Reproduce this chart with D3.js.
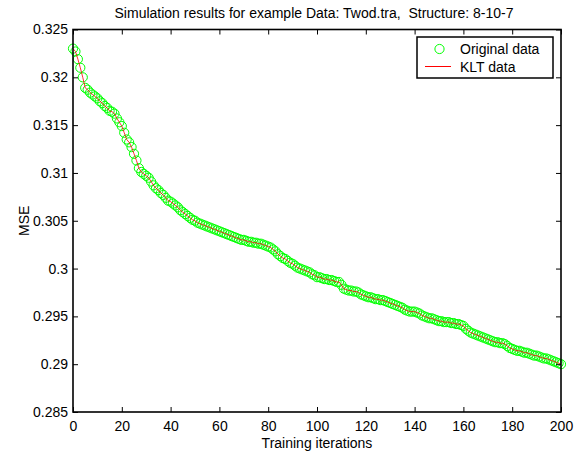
<!DOCTYPE html>
<html>
<head>
<meta charset="utf-8">
<script src="https://cdn.jsdelivr.net/npm/d3@7"></script>
<style>
	body { margin: 0; background: #fff; }
	svg text { font-family: "Liberation Sans", Arial, Helvetica, sans-serif; fill: #000; }
</style>
</head>
<body>
<div id="chart"></div>
<script>

var chartTitle = "Simulation results for example Data: Twod.tra,  Structure: 8-10-7"
var xLabel = "Training iterations"
var yLabel = "MSE"
var seriesNames = ["Original data", "KLT data"]

var xTicks = [0, 20, 40, 60, 80, 100, 120, 140, 160, 180, 200]
var yTicks = [0.285, 0.29, 0.295, 0.3, 0.305, 0.31, 0.315, 0.32, 0.325]

// MSE per training iteration, 0..200
var mseOriginal = [
	0.3230, 0.3227, 0.3219, 0.3210, 0.3200, 0.3189, 0.3187, 0.3184, 0.3182, 0.3180,
	0.3178, 0.3175, 0.3173, 0.3170, 0.3168, 0.3165, 0.3164, 0.3162, 0.3157, 0.3153,
	0.3149, 0.3142, 0.3135, 0.3132, 0.3127, 0.3120, 0.3113, 0.3105, 0.3101, 0.3099,
	0.3097, 0.3095, 0.3091, 0.3087, 0.3084, 0.3082, 0.3079, 0.3077, 0.3074, 0.3071,
	0.3070, 0.3068, 0.3066, 0.3064, 0.3061, 0.3059, 0.3057, 0.3055, 0.3053, 0.3051,
	0.3050, 0.3048, 0.3047, 0.3046, 0.3045, 0.3044, 0.3043, 0.3042, 0.3041, 0.3040,
	0.3039, 0.3038, 0.3037, 0.3036, 0.3035, 0.3034, 0.3033, 0.3032, 0.3031, 0.3030,
	0.3030, 0.3029, 0.3028, 0.3028, 0.3027, 0.3027, 0.3026, 0.3026, 0.3025, 0.3024,
	0.3023, 0.3022, 0.3020, 0.3018, 0.3015, 0.3013, 0.3011, 0.3010, 0.3008, 0.3006,
	0.3005, 0.3003, 0.3001, 0.3000, 0.2999, 0.2998, 0.2997, 0.2996, 0.2994, 0.2993,
	0.2991, 0.2991, 0.2990, 0.2989, 0.2989, 0.2988, 0.2988, 0.2987, 0.2986, 0.2986,
	0.2983, 0.2979, 0.2978, 0.2977, 0.2977, 0.2976, 0.2976, 0.2975, 0.2973, 0.2972,
	0.2971, 0.2970, 0.2970, 0.2969, 0.2968, 0.2968, 0.2967, 0.2967, 0.2966, 0.2965,
	0.2964, 0.2963, 0.2962, 0.2961, 0.2960, 0.2959, 0.2957, 0.2956, 0.2955, 0.2955,
	0.2955, 0.2954, 0.2953, 0.2951, 0.2950, 0.2949, 0.2948, 0.2948, 0.2947, 0.2946,
	0.2945, 0.2945, 0.2944, 0.2944, 0.2944, 0.2943, 0.2943, 0.2942, 0.2942, 0.2941,
	0.2940, 0.2937, 0.2935, 0.2933, 0.2932, 0.2931, 0.2930, 0.2929, 0.2928, 0.2927,
	0.2926, 0.2925, 0.2924, 0.2923, 0.2923, 0.2922, 0.2922, 0.2921, 0.2919, 0.2917,
	0.2916, 0.2915, 0.2914, 0.2914, 0.2913, 0.2912, 0.2912, 0.2911, 0.2910, 0.2909,
	0.2909, 0.2908, 0.2907, 0.2906, 0.2906, 0.2905, 0.2904, 0.2903, 0.2902, 0.2901,
	0.2900
]

// the KLT run sits on top of the original one
var mseKLT = mseOriginal.slice()

function init() {

	var width = 574
	var height = 458
	var margin = {top: 29.5, right: 13, bottom: 46, left: 73}

	var w = width - margin.left - margin.right
	var h = height - margin.top - margin.bottom

	var svg = d3.select("#chart").append("svg")
		.attr("width", width)
		.attr("height", height)

	var x = d3.scaleLinear().domain([0, 200]).range([0, w])
	var y = d3.scaleLinear().domain([0.285, 0.325]).range([h, 0])

	var plot = svg.append("g").attr("transform", "translate(" + margin.left + "," + margin.top + ")")

	var original = mseOriginal.map(function(d, i) { return {i: i, v: d} })
	var klt = mseKLT.map(function(d, i) { return {i: i, v: d} })

	plot.selectAll(".orig")
		.data(original)
		.enter().append("circle")
		.attr("class", "orig")
		.attr("cx", function(d) { return x(d.i) })
		.attr("cy", function(d) { return y(d.v) })
		.attr("r", 4.6)
		.style("fill", "none")
		.style("stroke", "#00ff00")
		.style("stroke-width", 1)

	var line = d3.line()
		.x(function(d) { return x(d.i) })
		.y(function(d) { return y(d.v) })

	plot.append("path")
		.datum(klt)
		.attr("d", line)
		.style("fill", "none")
		.style("stroke", "#ff0000")
		.style("stroke-width", 0.8)

	// axes, ticks point inwards like matlab
	var fmt = function(d) { return String(+d.toFixed(3)) }

	var xAxis = d3.axisBottom(x).tickValues(xTicks).tickSizeInner(-5).tickSizeOuter(0).tickPadding(9)
	var xTop = d3.axisTop(x).tickValues(xTicks).tickSizeInner(-5).tickSizeOuter(0).tickFormat("")
	var yAxis = d3.axisLeft(y).tickValues(yTicks).tickSizeInner(-5).tickSizeOuter(0).tickPadding(5).tickFormat(fmt)
	var yRight = d3.axisRight(y).tickValues(yTicks).tickSizeInner(-5).tickSizeOuter(0).tickFormat("")

	var gx = plot.append("g").attr("transform", "translate(0," + h + ")").call(xAxis)
	var gxt = plot.append("g").call(xTop)
	var gy = plot.append("g").call(yAxis)
	var gyr = plot.append("g").attr("transform", "translate(" + w + ",0)").call(yRight)

	;[gx, gxt, gy, gyr].forEach(function(g) {
		g.selectAll(".domain").remove()
		g.selectAll(".tick line").attr("stroke", "#000").attr("stroke-width", 1)
		g.selectAll(".tick text").attr("font-size", 14).attr("font-family", null)
	})

	plot.append("rect")
		.attr("x", 0)
		.attr("y", 0)
		.attr("width", w)
		.attr("height", h)
		.style("fill", "none")
		.style("stroke", "#000")
		.style("stroke-width", 1.6)

	svg.append("text")
		.attr("x", 314)
		.attr("y", 18)
		.attr("text-anchor", "middle")
		.attr("font-size", 14)
		.style("white-space", "pre")
		.text(chartTitle)

	svg.append("text")
		.attr("x", margin.left + w / 2)
		.attr("y", 448)
		.attr("text-anchor", "middle")
		.attr("font-size", 14)
		.text(xLabel)

	svg.append("text")
		.attr("transform", "translate(29," + (margin.top + h / 2) + ") rotate(-90)")
		.attr("text-anchor", "middle")
		.attr("font-size", 14)
		.text(yLabel)

	// legend
	var legend = svg.append("g").attr("transform", "translate(417,37)")

	legend.append("rect")
		.attr("width", 136)
		.attr("height", 41)
		.style("fill", "#fff")
		.style("stroke", "#000")
		.style("stroke-width", 1.5)

	legend.append("circle")
		.attr("cx", 22.5)
		.attr("cy", 12)
		.attr("r", 4.6)
		.style("fill", "none")
		.style("stroke", "#00ff00")
		.style("stroke-width", 1)

	legend.append("line")
		.attr("x1", 8)
		.attr("x2", 34)
		.attr("y1", 29.5)
		.attr("y2", 29.5)
		.style("stroke", "#ff0000")
		.style("stroke-width", 1)

	legend.selectAll(".lab")
		.data(seriesNames)
		.enter().append("text")
		.attr("class", "lab")
		.attr("x", 43)
		.attr("y", function(d, i) { return 17 + i * 17.5 })
		.attr("font-size", 14)
		.text(function(d) { return d })

}

init()

</script>
</body>
</html>
